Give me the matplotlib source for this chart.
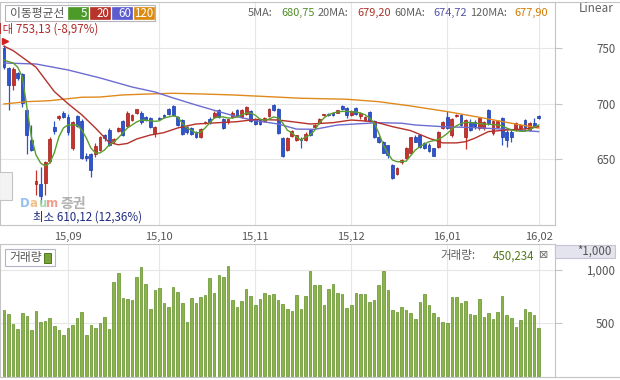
import matplotlib
matplotlib.use('Agg')
import matplotlib.pyplot as plt
from matplotlib.patches import Rectangle
from matplotlib.lines import Line2D
import matplotlib.transforms as mtransforms
import numpy as np

plt.rcParams['font.family'] = ['Noto Sans CJK KR', 'DejaVu Sans']

# ---------------- data ----------------
opens = [750, 732, 717, 728, 727, 694, 667, 627, 627, 628,
         648, 679, 687, 692, 688, 660, 689, 684, 653, 654,
         654, 658, 672, 676, 666, 675, 684, 680, 685, 692,
         692, 688, 687, 673.5, 687, 690, 695, 698, 688, 685,
         679, 678, 674, 670, 682.5, 686, 688, 694, 686, 683,
         688, 694, 688, 691, 693, 686, 685, 684, 689, 699,
         695, 669, 658, 671, 667, 667.5, 667, 676, 678.6, 682.5,
         689.5, 690.8, 692, 692, 698, 696, 690, 696, 689, 685,
         692.5, 684.6, 670, 665.6, 662.6, 644.5, 636, 647.5, 651, 655,
         670, 672, 664, 663, 659.6, 661, 677.7, 688, 671.7, 688.5,
         690, 670, 683.7, 683, 677.7, 677.7, 694.3, 673.2, 679.2, 686.8,
         674.7, 674.7, 676.2, 677.7, 685.2, 676.2, 682.3, 688.9]
highs = [753.13, 733, 733, 729, 728, 695, 681, 640, 643, 648,
         670, 684.6, 690, 693, 691, 684, 690, 686, 655, 655,
         664, 671, 673, 678, 669, 679, 685, 693, 691, 695.5,
         693, 689, 688, 680, 688, 691, 696, 699, 689, 686,
         680, 679, 675, 678, 684, 688, 693, 695, 687, 686.5,
         693, 695, 695, 698, 694, 687, 686, 688, 696, 700,
         696, 670, 670, 676, 672, 670, 674, 677, 682, 687,
         691, 691.5, 692.5, 694.5, 699, 697, 694, 697, 692.5, 688.5,
         693, 685, 671, 666, 663, 645, 642.5, 650, 661, 670,
         672, 673, 665, 664, 660, 675, 684, 693, 687, 690.5,
         691, 686, 686, 685, 687, 684, 695, 685, 685.5, 688,
         676, 676, 683, 681.5, 686, 683, 686.8, 690]
lows = [731, 694, 712, 721, 697, 654, 657, 617, 610.12, 617,
        646, 673, 685, 687, 672, 658, 679, 650, 648, 634,
        652, 657, 666, 662, 664, 674, 671, 679, 684, 691,
        682, 684, 678, 670, 685, 687, 690, 689, 680, 672,
        673, 672, 669, 669, 682, 682, 687, 687, 677, 682,
        687, 688, 687, 690, 683, 681, 681, 683, 688, 693,
        673, 652, 657, 670, 666, 659.6, 666, 671, 678, 682,
        689, 689, 689, 691.5, 694.5, 687, 689, 690, 686, 684,
        683.5, 669, 664, 655, 651, 632, 635, 645, 650, 654.5,
        665, 660, 659, 656, 652.5, 660, 677, 677, 670, 688,
        680, 659, 675, 677, 676, 676, 681, 672, 678, 662.6,
        661, 665, 675, 676, 677, 675, 678.5, 686]
closes = [733.5, 717, 731, 723, 701, 672, 658, 630, 616, 647,
          668, 675, 689, 688, 674, 683.7, 680, 651, 650.5, 640,
          662, 670, 669, 663, 668, 678, 672, 692, 690, 695,
          683, 685, 679, 679, 686, 688, 691, 690, 681, 673,
          674, 672.5, 670, 677, 683.5, 683, 692, 688, 678, 686,
          692, 689, 694, 697, 684, 681.5, 682, 687, 695, 694,
          673.5, 653, 669, 675, 671.6, 667, 673, 671.6, 681, 686,
          690.3, 689.5, 689.3, 694, 695, 690, 693, 691, 692, 688,
          684, 669.6, 665, 655.7, 653.6, 632.5, 642, 649, 660, 669.7,
          665.6, 661, 659.6, 657, 653, 674, 683.7, 677.7, 686, 689.2,
          681, 685, 676, 680, 686.8, 683.2, 682.3, 684.3, 684.3, 670.1,
          667.1, 670.1, 682.3, 680.7, 677.7, 682.3, 679.2, 686.8]
volumes = [623, 585, 491, 440, 597, 566, 434, 613, 513, 522,
           544, 472, 434, 387, 450, 481, 544, 607, 387, 481,
           450, 503, 553, 440, 884, 969, 733, 723, 717, 931,
           1025, 868, 632, 811, 827, 692, 648, 836, 789, 692,
           513, 733, 692, 742, 764, 921, 786, 953, 931, 1038,
           717, 648, 708, 817, 755, 670, 723, 786, 764, 774,
           717, 679, 632, 613, 764, 632, 755, 994, 858, 858,
           670, 817, 868, 786, 774, 638, 670, 786, 774, 774,
           701, 717, 858, 991, 811, 623, 607, 648, 623, 591,
           535, 701, 774, 670, 597, 553, 513, 503, 742, 742,
           692, 708, 585, 576, 723, 553, 597, 535, 607, 755,
           576, 550, 459, 528, 629, 607, 576, 450.234]

ma5 = [739.5, 738, 736.8, 733, 724.2, 697, 669.8, 653.6, 646.3, 643.6,
       646.3, 655.4, 669.8, 678, 680.7, 680.7, 680.7, 676.2, 669, 659.9,
       655.4, 655.4, 658.1, 662.6, 665.3, 669, 673.5, 678, 680.7, 683.4,
       685.2, 685, 684.5, 684, 684.5, 687, 688, 689, 688, 682.5,
       678, 676, 673.5, 674, 678, 682.5, 687, 688, 688, 687,
       687, 688, 690, 691.5, 691.5, 689.5, 686, 685, 686, 688,
       687, 682.5, 676, 673.5, 670, 667, 670, 671.6, 676, 682.5,
       687, 690, 691.5, 692.5, 693, 693, 692.5, 692.5, 691.5, 690,
       687, 682.5, 673.5, 662.6, 655, 649, 647.5, 647.5, 648, 653,
       658, 661, 663.5, 665.6, 666.5, 667.5, 670, 673, 677, 680,
       682, 683, 683, 682.5, 682, 681.6, 681.5, 681, 680.7, 680,
       678, 676.2, 675.5, 675, 675, 676.5, 678.5, 680.75]

ma20_day = [0, 2, 4, 7, 9, 11, 14, 17, 20, 23, 25, 27, 29, 32, 35, 38, 42, 47, 51,
            55, 60, 63, 67, 72, 76, 81, 85, 89, 93, 96, 99, 101, 103, 106, 110, 114, 117]
ma20_val = [752, 748, 742, 733, 722, 711, 700, 690, 678, 665, 662.8, 664, 668, 671.6,
            673.8, 678, 681.6, 682.8, 683.7, 685.7, 685.2, 683.7, 681.6, 682.8, 685.2,
            683.7, 679.2, 675.6, 668.7, 664.5, 664.5, 665.6, 668.7, 674.7, 676.2, 677.1, 679.2]

ma60_day = [0, 7, 14, 21, 28, 33, 37, 42, 47, 51, 55, 60, 64, 68, 73, 82, 87, 90, 96, 103, 110, 117]
ma60_val = [736.8, 735.9, 730.5, 723.3, 715.1, 710.6, 705.2, 698.8, 692.8, 688.2,
            684.6, 681.6, 677, 676.8, 680.7, 682.8, 682.3, 680.7, 679.2, 678.3, 676.8, 674.72]

ma120_day = [0, 5, 10, 17, 21, 26, 32, 37, 43, 50, 58, 65, 75, 82, 89, 97, 104, 111, 117]
ma120_val = [699.7, 701.8, 702.7, 705.8, 706, 707.9, 708.8, 709.4, 708.8, 707.9,
             706.3, 704.9, 704, 701.8, 697.9, 692.8, 687.7, 682.3, 677.9]

ma_periods = [5, 20, 60, 120]
ma_last = [680.75, 679.20, 674.72, 677.90]

month_start_idx = [14, 34, 55, 76, 97, 117]
month_labels = ['15,09', '15,10', '15,11', '15,12', '16,01', '16,02']

price_ticks = [650, 700, 750]
vol_ticks = [500, 1000]
vol_tick_labels = ['500', '1,000']

max_price, max_pct = 753.13, -8.97
min_price, min_pct = 610.12, 12.36

# ---------------- styles ----------------
W, H = 620, 380
C_MA = ['#5a9e2c', '#b5312a', '#6c6cd2', '#e0891c']
C_BOX = ['#4c9a28', '#b8342a', '#5c5cd0', '#dc8a10']
C_VAL = ['#4f8d25', '#a83228', '#5252aa', '#d07a00']
UP_F, UP_E = '#c8332b', '#9c1c1c'
DN_F, DN_E = '#2d55d2', '#1c3aa2'
GRID = '#e6e6e6'
SPINE = '#c4c4c4'
TXT = '#555555'


def fx(px):
    return px / W


def fy(py):
    return 1 - py / H


def fmt(v):
    return f"{v:.2f}".replace('.', ',')


fig = plt.figure(figsize=(6.2, 3.8), dpi=100)
fig.patch.set_facecolor('white')

ax = fig.add_axes([0, fy(225), fx(555), (225 - 2) / H])
axv = fig.add_axes([0, fy(377), fx(555), (377 - 244) / H])

n = len(closes)
idx = np.arange(n)
o = np.array(opens); c = np.array(closes)
hi = np.array(highs); lo = np.array(lows)
up = c >= o

# ---------------- price panel ----------------
ax.vlines(idx[up], lo[up], hi[up], color=UP_F, lw=0.9, zorder=2)
ax.vlines(idx[~up], lo[~up], hi[~up], color=DN_F, lw=0.9, zorder=2)
body_lo = np.minimum(o, c)
body_h = np.maximum(np.abs(c - o), 0.9)
ax.bar(idx[up], body_h[up], bottom=body_lo[up], width=0.62, color=UP_F,
       edgecolor=UP_E, linewidth=0.5, zorder=2)
ax.bar(idx[~up], body_h[~up], bottom=body_lo[~up], width=0.62, color=DN_F,
       edgecolor=DN_E, linewidth=0.5, zorder=2)

ax.plot(ma120_day, ma120_val, color=C_MA[3], lw=1.0, zorder=3)
ax.plot(ma60_day, ma60_val, color=C_MA[2], lw=1.0, zorder=3)
ax.plot(ma20_day, ma20_val, color=C_MA[1], lw=1.0, zorder=3)
ax.plot(idx, ma5, color=C_MA[0], lw=1.0, zorder=3)

# max marker
imax = int(np.argmax(hi))
tr = mtransforms.offset_copy(ax.transData, fig=fig, x=1.5, y=4, units='dots')
ax.plot([imax], [hi[imax]], marker='>', ms=4.5, color='#d42020', transform=tr,
        zorder=5, clip_on=False)

ax.set_xlim(-0.875, 120.57)
ax.set_ylim(590.2, 792.0)
ax.set_xticks(month_start_idx)
ax.set_xticklabels(month_labels)
ax.set_yticks(price_ticks)
ax.grid(True, color=GRID, lw=0.8, zorder=0)
ax.set_axisbelow(True)
ax.yaxis.tick_right()
ax.tick_params(axis='y', length=5, width=0.8, color=SPINE, pad=38.5,
               labelsize=8.3, labelcolor=TXT)
ax.tick_params(axis='x', length=0, pad=5, labelsize=8, labelcolor=TXT)
for t in ax.yaxis.get_major_ticks():
    t.label2.set_horizontalalignment('right')
for s in ax.spines.values():
    s.set_color(SPINE)
    s.set_linewidth(0.8)

# ---------------- volume panel ----------------
axv.bar(idx, volumes, width=0.56, color='#8ab34a', edgecolor='#62902a',
        linewidth=0.5, zorder=2)
axv.set_xlim(-0.875, 120.57)
axv.set_ylim(-9.4, 1245)
axv.set_xticks(month_start_idx)
axv.set_xticklabels([])
axv.set_yticks(vol_ticks)
axv.set_yticklabels(vol_tick_labels)
axv.grid(True, color=GRID, lw=0.8, zorder=0)
axv.set_axisbelow(True)
axv.yaxis.tick_right()
axv.tick_params(axis='y', length=5, width=0.8, color=SPINE, pad=38.5,
                labelsize=8.3, labelcolor=TXT)
axv.tick_params(axis='x', length=0)
for t in axv.yaxis.get_major_ticks():
    t.label2.set_horizontalalignment('right')
for s in axv.spines.values():
    s.set_color(SPINE)
    s.set_linewidth(0.8)

# ---------------- decorations ----------------
def rect(x0, y0, x1, y1, fc, ec, lw=0.8, z=5):
    fig.add_artist(Rectangle((fx(x0), fy(y1)), fx(x1 - x0), (y1 - y0) / H,
                             transform=fig.transFigure, facecolor=fc,
                             edgecolor=ec, linewidth=lw, zorder=z))


def text(x, y, s, **kw):
    kw.setdefault('va', 'center')
    kw.setdefault('fontsize', 8)
    kw.setdefault('color', TXT)
    fig.text(fx(x), fy(y), s, **kw)


# frame lines in right area
fig.add_artist(Line2D([fx(555), 1], [fy(1.5), fy(1.5)], transform=fig.transFigure,
                      color=SPINE, lw=0.8))
fig.add_artist(Line2D([fx(555), 1], [fy(377), fy(377)], transform=fig.transFigure,
                      color=SPINE, lw=0.8))

# MA legend box
rect(5, 5, 155, 21, 'white', '#b4b4bc')
text(10, 13.5, '이동평균선', fontsize=8.5, color='#555555', zorder=6)
box_x = [68, 90, 112, 134]
for bx, p, col in zip(box_x, ma_periods, C_BOX):
    rect(bx, 7.5, bx + 20, 19, col, col, lw=0.5, z=6)
    text(bx + 19, 13.5, str(p), ha='right', fontsize=8.3, color='white', zorder=7)

# MA header values
lab_x = [248, 318, 394, 470]
val_x = [281, 357, 433, 514]
for lx, vx, p, v, col in zip(lab_x, val_x, ma_periods, ma_last, C_VAL):
    text(lx, 13, f"{p}MA:", fontsize=7.9, color='#606060')
    text(vx, 13, fmt(v), fontsize=7.9, color=col)

text(614, 9, 'Linear', ha='right', fontsize=8.5, color='#606060')

# max / min labels
text(-7.5, 29.5, f"최대 {fmt(max_price)} ({fmt(max_pct)}%)", fontsize=8.3,
     color='#b02a2a')
text(33, 217, f"최소 {fmt(min_price)} ({fmt(min_pct)}%)", fontsize=8.3,
     color='#1e2c80')

# Daum watermark
for lx, ch, col in zip([20, 29.8, 37.8, 46.2], 'Daum',
                       ['#86b4ea', '#f2b672', '#9ad39a', '#f08c78']):
    text(lx, 203.5, ch, fontsize=8.5, fontweight='bold', color=col, alpha=0.85,
         family=['DejaVu Sans'])
text(60.5, 203.5, '증권', fontsize=10, fontweight='bold', color='#a8a8a8', alpha=0.9)

# side tab
rect(-1, 172, 11.5, 200, '#f3f3f3', '#c4c4c4', lw=0.8)
text(5, 186, '⊣', ha='center', fontsize=7, color='#777777',
     family=['DejaVu Sans'])

# volume headers
rect(5, 249, 55, 266, 'white', '#b4b4c8')
text(9, 257.5, '거래량', fontsize=8.5, color='#555555', zorder=6)
rect(44, 252.5, 51, 262.5, '#7aa23a', '#4f7a1e', lw=0.7, z=6)
text(440, 256, '거래량:', fontsize=8.3, color='#606060')
text(493, 256, f"{int(round(volumes[-1] * 1000)):,}", fontsize=8.3, color='#557a1a')
text(539, 255.5, '⊠', fontsize=8, color='#707070', family=['DejaVu Sans'])

rect(555, 245, 615, 257.5, '#e4e4ee', '#c4c4d4', lw=0.8)
text(612, 251, '*1,000', ha='right', fontsize=8.3, color='#555555', zorder=6)

fig.savefig('out.png', dpi=100, facecolor='white')
